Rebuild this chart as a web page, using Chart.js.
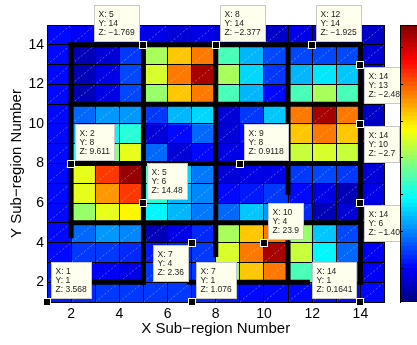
<!DOCTYPE html>
<html><head><meta charset="utf-8">
<script src="https://cdn.jsdelivr.net/npm/chart.js@4"></script>
<style>
html,body{margin:0;padding:0;overflow:hidden;background:#fff;width:417px;height:345px;}
#main{position:absolute;left:0;top:0;}
#cbar{position:absolute;left:390px;top:0;}
</style></head><body>
<canvas id="main" width="417" height="345"></canvas>
<canvas id="cbar" width="40" height="345"></canvas>
<script>
const FONT = "'Liberation Sans', Arial, Helvetica, sans-serif";

// ---- categories / ticks ----
const xCells = [1,2,3,4,5,6,7,8,9,10,11,12,13,14];
const yCells = [1,2,3,4,5,6,7,8,9,10,11,12,13,14];
const gridValues = [1,2,3,4,5,6,7,8,9,10,11,12,13,14,15];
const xTickLabels = [2,4,6,8,10,12,14];
const yTickLabels = [2,4,6,8,10,12,14];
const colorbarTicks = [0,5,10,15,20,25,30];
const cMin = -4.6, cMax = 33.1;

// ---- cell values, one array per Y row (columns X = 1..14) ----
const zY14 = [0.7, 0.1, -0.1, -0.1, -0.8, -1.2, -0.5, -1.6, -2.0, -2.0, -0.8, -1.6, -1.6, -2.0];
const zY13 = [0.7, -2.3, -1.2, 2.2, 15.8, 21.0, 23.9, 12.4, 7.1, 2.9, 2.6, 2.9, 2.6, -1.6];
const zY12 = [0.7, -2.3, -0.8, 2.6, 17.6, 24.1, 31.6, 15.8, 7.8, 2.4, 7.1, 8.6, 7.5, -0.8];
const zY11 = [0.7, -2.3, -0.8, 2.6, 15.4, 21.0, 24.1, 12.0, 6.7, 0.7, 12.4, 15.8, 12.4, -1.6];
const zY10 = [0.7, 4.1, 6.0, 6.0, 2.4, 6.7, 7.8, -1.6, 2.4, 7.5, 24.1, 31.6, 24.1, -2.0];
const zY9  = [0.7, 6.7, 9.3, 10.9, -1.6, 0.7, 3.7, -1.2, 0.3, 2.9, 21.0, 23.7, 21.0, -1.6];
const zY8  = [0.7, 10.5, 14.3, 18.0, 4.1, -1.6, 0.7, -0.8, -0.1, 1.1, 16.7, 17.3, 16.7, -1.6];
const zY7  = [0.7, 18.0, 26.3, 32.0, 12.4, 7.8, 4.4, -1.6, -0.8, -0.5, 2.2, 2.6, 2.2, -1.2];
const zY6  = [0.7, 18.0, 22.5, 26.3, 11.2, 6.7, 5.2, 0.7, 1.1, 2.2, 0.3, -0.8, -2.3, -0.8];
const zY5  = [0.7, 15.0, 18.0, 19.5, 9.5, 6.7, 4.8, 3.7, 7.5, 5.6, 1.8, -2.3, -1.6, -0.8];
const zY4  = [0.7, 3.7, 5.6, 5.2, -2.7, -0.5, 1.8, 15.8, 21.0, 24.1, 15.0, 7.5, 2.6, -0.8];
const zY3  = [0.7, 2.4, 2.4, 1.4, 1.1, 1.4, 2.2, 17.6, 24.1, 31.6, 16.9, 9.0, 3.7, -0.3];
const zY2  = [1.1, -0.1, -0.3, -0.5, 2.2, 1.8, 2.2, 15.4, 21.0, 24.1, 12.4, 6.7, 2.9, 0.1];
const zY1  = [1.1, 1.4, 2.2, 2.2, 2.2, 2.2, 1.4, 1.1, 0.7, 0.7, 0.7, 0.3, 0.3, 0.3];
const zRows = [zY1, zY2, zY3, zY4, zY5, zY6, zY7, zY8, zY9, zY10, zY11, zY12, zY13, zY14];

// ---- sub-region boundary segments (visible parts) ----
const edgeX1 = [2, 2, 2, 2, 2, 6.9, 2, 5, 8, 11, 11, 14];
const edgeY1 = [14, 11, 8, 5, 2, 2, 4.35, 2, 3.4, 6.55, 2, 2];
const edgeX2 = [14, 14, 14, 14, 5, 11.8, 2, 5, 8, 11, 11, 14];
const edgeY2 = [14, 11, 8, 5, 2, 2, 14, 14, 14, 14, 4, 14];

// ---- data tips ----
const tipX = [5, 8, 12, 14, 14, 2, 9, 5, 14, 10, 7, 1, 7, 14];
const tipY = [14, 14, 14, 13, 10, 8, 8, 6, 6, 4, 4, 1, 1, 1];
const tipZ = ['\u22121.769','\u22122.377','\u22121.925','\u22122.48','\u22122.7','9.611','0.9118','14.48','\u22121.40','23.9','2.36','3.568','1.076','0.1641'];
const tipSide = ['nw','ne','ne','se','se','ne','ne','ne','se','ne','sw','ne','ne','nw'];

// ---- jet colormap (64 levels) ----
function clamp01(v){ return Math.max(0, Math.min(1, v)); }
function jetIndex(idx){
  const t = (idx + 0.5) / 64;
  const r = clamp01(1.5 - Math.abs(4*t - 3));
  const g = clamp01(1.5 - Math.abs(4*t - 2));
  const b = clamp01(1.5 - Math.abs(4*t - 1));
  return `rgb(${Math.round(r*255)},${Math.round(g*255)},${Math.round(b*255)})`;
}
function jet(v){
  const idx = Math.max(0, Math.min(63, Math.floor((v - cMin) / (cMax - cMin) * 64)));
  return jetIndex(idx);
}

// ---- build datasets ----
const cellData = [], cellColors = [];
yCells.forEach((yc, ri) => {
  xCells.forEach((xc, ci) => {
    cellData.push({ x: xc + 0.5, y: [yc, yc + 1] });
    cellColors.push(jet(zRows[ri][ci]));
  });
});

const diagData = [];
for (let k = -(xCells.length - 1); k <= yCells.length - 1; k++) {
  const x0 = k >= 0 ? 1 : 1 - k, y0 = k >= 0 ? 1 + k : 1;
  const x1 = k >= 0 ? 15 - k : 15, y1 = k >= 0 ? 15 : 15 + k;
  diagData.push({x: x0, y: y0}, {x: x1, y: y1}, {x: x1, y: null});
}

const edgeDatasets = edgeX1.map((_, i) => ({
  type: 'line',
  data: [{x: edgeX1[i], y: edgeY1[i]}, {x: edgeX2[i], y: edgeY2[i]}],
  borderColor: '#000', borderWidth: 5, borderCapStyle: 'square',
  pointRadius: 0, order: 1, fill: false
}));

const dataTipPlugin = {
  id: 'dataTips',
  afterDraw(chart) {
    const {ctx} = chart;
    const xs = chart.scales.x, ys = chart.scales.y;
    ctx.save();
    ctx.font = `8.5px ${FONT}`;
    ctx.textBaseline = 'middle';
    ctx.textAlign = 'left';
    tipX.forEach((tx, i) => {
      const mx = Math.round(xs.getPixelForValue(tx));
      const my = Math.round(ys.getPixelForValue(tipY[i]));
      const lines = ['X: ' + tx, 'Y: ' + tipY[i], 'Z: ' + tipZ[i]];
      const w = Math.ceil(Math.max(...lines.map(l => ctx.measureText(l).width))) + 9;
      const h = 37;
      const side = tipSide[i];
      const bx = side[1] === 'e' ? mx + 4 : mx - 3 - w;
      const by = side[0] === 'n' ? my - 3 - h : my + 2;
      ctx.fillStyle = '#ffffee';
      ctx.fillRect(bx, by, w, h);
      ctx.strokeStyle = '#c8c8c8';
      ctx.lineWidth = 1;
      ctx.strokeRect(bx + 0.5, by + 0.5, w - 1, h - 1);
      ctx.fillStyle = '#222';
      lines.forEach((l, j) => ctx.fillText(l, bx + 4.5, by + 9.5 + j * 9.3));
      ctx.fillStyle = '#fff';
      ctx.fillRect(mx - 4, my - 4, 8, 8);
      ctx.fillStyle = '#000';
      ctx.fillRect(mx - 3, my - 3, 6, 6);
    });
    ctx.restore();
  }
};

const axisFont = { family: FONT, size: 14 };
const titleFont = { family: FONT, size: 15 };

new Chart(document.getElementById('main'), {
  type: 'bar',
  data: {
    datasets: [
      { type: 'bar', data: cellData, backgroundColor: cellColors, borderWidth: 0,
        categoryPercentage: 1, barPercentage: 1, order: 3 },
      { type: 'line', data: diagData, borderColor: 'rgba(255,255,255,0.5)', borderWidth: 0.7,
        borderDash: [2, 2], pointRadius: 0, spanGaps: false, order: 2, fill: false },
      ...edgeDatasets
    ]
  },
  options: {
    responsive: false, animation: false, devicePixelRatio: 1, events: [],
    layout: { padding: { left: 0, top: 25, right: 32.5, bottom: 0 } },
    plugins: { legend: { display: false }, tooltip: { enabled: false } },
    scales: {
      x: {
        type: 'linear', min: 1, max: 15, offset: false, position: 'bottom', z: 1,
        grid: { color: '#000', lineWidth: 1, drawTicks: false, offset: false, z: 1 },
        border: { display: true, color: '#000', width: 1, z: 1 },
        ticks: { autoSkip: false, maxRotation: 0, padding: 4, color: '#000', font: axisFont,
                 callback: v => xTickLabels.includes(v) ? String(v) : '' },
        title: { display: true, text: 'X Sub\u2212region Number', color: '#000', font: titleFont,
                 padding: { top: 0, bottom: 7 } },
        afterBuildTicks: s => { s.ticks = gridValues.map(v => ({ value: v })); },
        afterFit: s => { s.height = 43; }
      },
      y: {
        type: 'linear', min: 1, max: 15, position: 'left', z: 1,
        grid: { color: '#000', lineWidth: 1, drawTicks: false, z: 1 },
        border: { display: true, color: '#000', width: 1, z: 1 },
        ticks: { autoSkip: false, padding: 3, color: '#000', font: axisFont,
                 callback: v => yTickLabels.includes(v) ? String(v) : '' },
        title: { display: true, text: 'Y Sub\u2212region Number', color: '#000', font: titleFont,
                 padding: { top: 8, bottom: 0 } },
        afterBuildTicks: s => { s.ticks = gridValues.map(v => ({ value: v })); },
        afterFit: s => { s.width = 47; }
      }
    }
  },
  plugins: [dataTipPlugin]
});

// ---- colorbar ----
const cbLevels = Array.from({ length: 64 }, (_, i) => i);
const cbStep = (cMax - cMin) / 64;
const framePlugin = {
  id: 'cbFrame',
  afterDraw(chart) {
    const { ctx, chartArea: a } = chart;
    ctx.save();
    ctx.strokeStyle = '#000';
    ctx.lineWidth = 1;
    ctx.strokeRect(Math.round(a.left) + 0.5, Math.round(a.top) + 0.5, Math.round(a.right - a.left) + 5, Math.round(a.bottom - a.top) - 1);
    ctx.restore();
  }
};
new Chart(document.getElementById('cbar'), {
  type: 'bar',
  data: {
    labels: ['cb'],
    datasets: [{
      data: cbLevels.map(i => ({ x: 'cb', y: [cMin + i * cbStep, cMin + (i + 1) * cbStep] })),
      backgroundColor: cbLevels.map(i => jetIndex(i)),
      borderWidth: 0, categoryPercentage: 1, barPercentage: 1
    }]
  },
  options: {
    responsive: false, animation: false, devicePixelRatio: 1, events: [],
    layout: { padding: { left: 10, right: 0, top: 25, bottom: 43 } },
    plugins: { legend: { display: false }, tooltip: { enabled: false } },
    scales: {
      x: { type: 'category', display: false },
      y: {
        type: 'linear', min: cMin, max: cMax, position: 'left', z: 1,
        grid: { drawOnChartArea: false, drawTicks: true, tickLength: -3, color: '#000', lineWidth: 1, z: 1 },
        border: { display: true, color: '#000', width: 1, z: 1 },
        ticks: { display: false },
        afterBuildTicks: s => { s.ticks = colorbarTicks.map(v => ({ value: v })); },
        afterFit: s => { s.width = 0; }
      }
    }
  },
  plugins: [framePlugin]
});
</script>
</body></html>
